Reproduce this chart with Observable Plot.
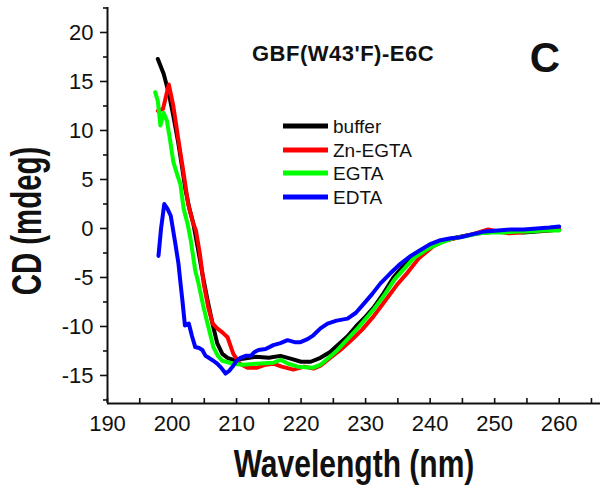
<!DOCTYPE html>
<html>
<head>
<meta charset="utf-8">
<script src="https://cdn.jsdelivr.net/npm/d3@7"></script>
<script src="https://cdn.jsdelivr.net/npm/@observablehq/plot@0.6"></script>
<style>
  html, body { margin: 0; padding: 0; background: #fff; }
  #chart { width: 600px; height: 493px; overflow: hidden; }
</style>
</head>
<body>
<div id="chart"></div>
<script>
// ---- data ----
const seriesNames = ["buffer", "Zn-EGTA", "EGTA", "EDTA"];
const seriesColors = ["#000000", "#ff0000", "#00ff00", "#0000ff"];

const wlBuffer = [197.8,198.7,199.5,200.2,200.9,201.5,202.1,202.7,203.3,204.0,204.7,205.5,206.3,207.0,207.8,208.6,209.5,211,213,215,216.8,218.5,220,221.5,223,224.5,226,227.2,228.5,230,231.2,232.8,234.3,235.6,237,238.8,240.5,242.5,244.3,246.5,248.5,250.5,252.5,254.5,256.5,258.5,260];
const cdBuffer = [17.3,15.8,13.8,11.5,9.0,6.5,3.9,2.0,0.5,-2.0,-4.6,-7.3,-9.8,-11.7,-12.8,-13.2,-13.4,-13.3,-13.1,-13.2,-13.0,-13.3,-13.6,-13.6,-13.2,-12.6,-11.7,-11.0,-10.0,-9.0,-8.1,-6.6,-5.0,-4.0,-3.1,-2.3,-1.7,-1.2,-0.9,-0.6,-0.4,-0.3,-0.3,-0.4,-0.3,-0.2,-0.1];

const wlZn = [197.8,198.6,199.5,200.2,201.0,201.8,202.5,203.2,203.7,204.3,204.9,205.6,206.3,207,207.8,208.6,209.5,210.5,211.7,213.2,214.5,215.7,217,218.8,220.5,221.9,223,224.5,226.1,228.1,229.5,231.2,233,234.8,236.5,238.3,240.5,242.5,244.5,246.5,249,250.5,252.2,254,256,258,260];
const cdZn = [12.0,12.2,14.7,12.5,9.0,5.6,2.5,0.7,-0.2,-2.5,-5.6,-8.0,-9.7,-10.2,-10.6,-11.1,-12.8,-13.8,-14.2,-14.2,-13.9,-13.8,-14.1,-14.4,-14.1,-14.3,-14.0,-13.2,-12.4,-11.2,-10.3,-9.0,-7.4,-5.8,-4.5,-3.0,-1.8,-1.2,-0.9,-0.6,-0.1,-0.3,-0.5,-0.4,-0.2,-0.2,-0.1];

const wlEgta = [197.4,197.8,198.2,198.7,199.2,199.7,200.2,200.8,201.3,201.8,202.4,202.9,203.6,204.1,204.8,205.5,206.4,207.1,207.8,209.5,211,213,215.7,216.8,218,219.5,221.9,223,224.1,225.5,227.2,229,231.2,233,234.5,236,237.5,239.6,241.5,243.5,245.5,247.5,249.5,251.5,253.5,255.5,257.5,260];
const cdEgta = [13.9,13.0,10.5,11.8,11.0,9.0,6.8,5.5,4.5,2.0,0.5,-1.2,-4.3,-5.6,-7.8,-9.7,-12.1,-13.0,-13.5,-13.8,-13.9,-13.8,-13.7,-13.4,-13.8,-14.1,-14.2,-13.9,-13.3,-12.5,-11.3,-10.0,-8.3,-6.7,-5.2,-4.1,-3.0,-2.1,-1.5,-1.0,-0.8,-0.5,-0.4,-0.4,-0.3,-0.3,-0.2,-0.2];

const wlEdta = [197.9,198.3,198.8,199.3,199.8,200.5,201.0,201.3,201.6,202.0,202.6,203.1,203.6,204.2,204.7,205.2,205.7,206.4,207,207.6,208.3,208.9,209.5,210.0,210.6,211.4,212.2,212.8,213.4,214.5,215.7,216.8,217.9,219,219.9,221,221.9,223,224.1,225.5,227.2,228.5,229.7,231,232.3,233.8,235.4,237,238.5,240,241.6,243.2,244.7,246.5,248.5,250.5,252.5,254.5,256.5,258.5,260];
const cdEdta = [-2.8,0.0,2.5,2.0,1.3,-1.5,-3.6,-5.5,-7.3,-9.9,-9.7,-11.0,-12.1,-12.2,-12.4,-13.0,-13.2,-13.5,-13.8,-14.2,-14.8,-14.5,-14.0,-13.5,-13.2,-13.0,-13.0,-12.6,-12.4,-12.3,-11.9,-11.7,-11.4,-11.6,-11.6,-11.3,-10.9,-10.2,-9.7,-9.4,-9.2,-8.6,-7.7,-6.7,-5.6,-4.6,-3.6,-2.8,-2.2,-1.6,-1.2,-1.0,-0.9,-0.6,-0.3,-0.2,-0.1,-0.1,0.0,0.1,0.2];

const xMajorTicks = [190,200,210,220,230,240,250,260];
const xMinorTicks = [195,205,215,225,235,245,255,265];
const yMajorTicks = [-15,-10,-5,0,5,10,15,20];
const yMinorTicks = [-17.5,-12.5,-7.5,-2.5,2.5,7.5,12.5,17.5,22.5];
const xDomain = [190, 266.4];
const yDomain = [-17.86, 22.55];

const titleText = "GBF(W43'F)-E6C";
const panelLetter = "C";
const xLabel = "Wavelength (nm)";
const yLabel = "CD (mdeg)";

// ---- build tables ----
const toRows = (wl, cd) => wl.map((w, i) => ({wl: w, cd: cd[i]}));
const series = [
  toRows(wlBuffer, cdBuffer),
  toRows(wlZn, cdZn),
  toRows(wlEgta, cdEgta),
  toRows(wlEdta, cdEdta)
];

const FONT = "'Liberation Sans', Arial, Helvetica, sans-serif";

const plot = Plot.plot({
  width: 600,
  height: 493,
  marginLeft: 107,
  marginRight: 0,
  marginTop: 7,
  marginBottom: 90,
  x: {domain: xDomain},
  y: {domain: yDomain},
  style: {fontFamily: FONT, color: "#111", background: "#fff", overflow: "visible"},
  marks: [
    // y axis ticks & labels (outward)
    Plot.axisY({ticks: yMajorTicks, tickSize: 7, tickPadding: 7, tickFormat: d => String(d), fontSize: 22, label: null, strokeWidth: 1.6}),
    Plot.axisY({ticks: yMinorTicks, tickSize: 4, tickFormat: () => "", label: null, strokeWidth: 1.6}),
    // x axis ticks (inward) & labels
    Plot.axisX({ticks: xMajorTicks.concat(xMinorTicks), tickSize: -5, tickFormat: () => "", label: null, strokeWidth: 1.6}),
    Plot.axisX({ticks: xMajorTicks, tickSize: 0, tickPadding: 12, tickFormat: d => String(d), fontSize: 22, label: null}),
    // axis lines
    Plot.ruleX([xDomain[0]], {stroke: "#111", strokeWidth: 2}),
    Plot.ruleY([yDomain[0]], {stroke: "#111", strokeWidth: 2}),
    // curves
    ...series.map((rows, i) => Plot.line(rows, {x: "wl", y: "cd", stroke: seriesColors[i], strokeWidth: 4, strokeLinejoin: "round", strokeLinecap: "round"}))
  ]
});

document.getElementById("chart").appendChild(plot);

// ---- annotations: title, panel letter, axis labels, legend ----
const svg = d3.select(plot);
const g = svg.append("g").attr("font-family", FONT).attr("fill", "#111").attr("text-anchor", "start");

g.append("text").attr("x", 343).attr("y", 61).attr("text-anchor", "middle")
  .attr("font-size", 22).attr("font-weight", "bold").attr("letter-spacing", "0.5px").text(titleText);
g.append("text").attr("x", 545).attr("y", 72).attr("text-anchor", "middle")
  .attr("font-size", 42).attr("font-weight", "bold").text(panelLetter);
g.append("text").attr("transform", "translate(354,477) scale(0.77,1)").attr("text-anchor", "middle")
  .attr("font-size", 39).attr("font-weight", "bold").text(xLabel);
g.append("text").attr("transform", "translate(41,221) rotate(-90) scale(0.7,1)").attr("text-anchor", "middle")
  .attr("font-size", 42).attr("font-weight", "bold").text(yLabel);

const legendRowsY = [126, 150, 173, 197];
seriesNames.forEach((name, i) => {
  g.append("line").attr("x1", 283).attr("x2", 328)
    .attr("y1", legendRowsY[i]).attr("y2", legendRowsY[i])
    .attr("stroke", seriesColors[i]).attr("stroke-width", 5);
  g.append("text").attr("x", 333).attr("y", legendRowsY[i] + 6.5)
    .attr("text-anchor", "start").attr("font-size", 19).text(name);
});
</script>
</body>
</html>
